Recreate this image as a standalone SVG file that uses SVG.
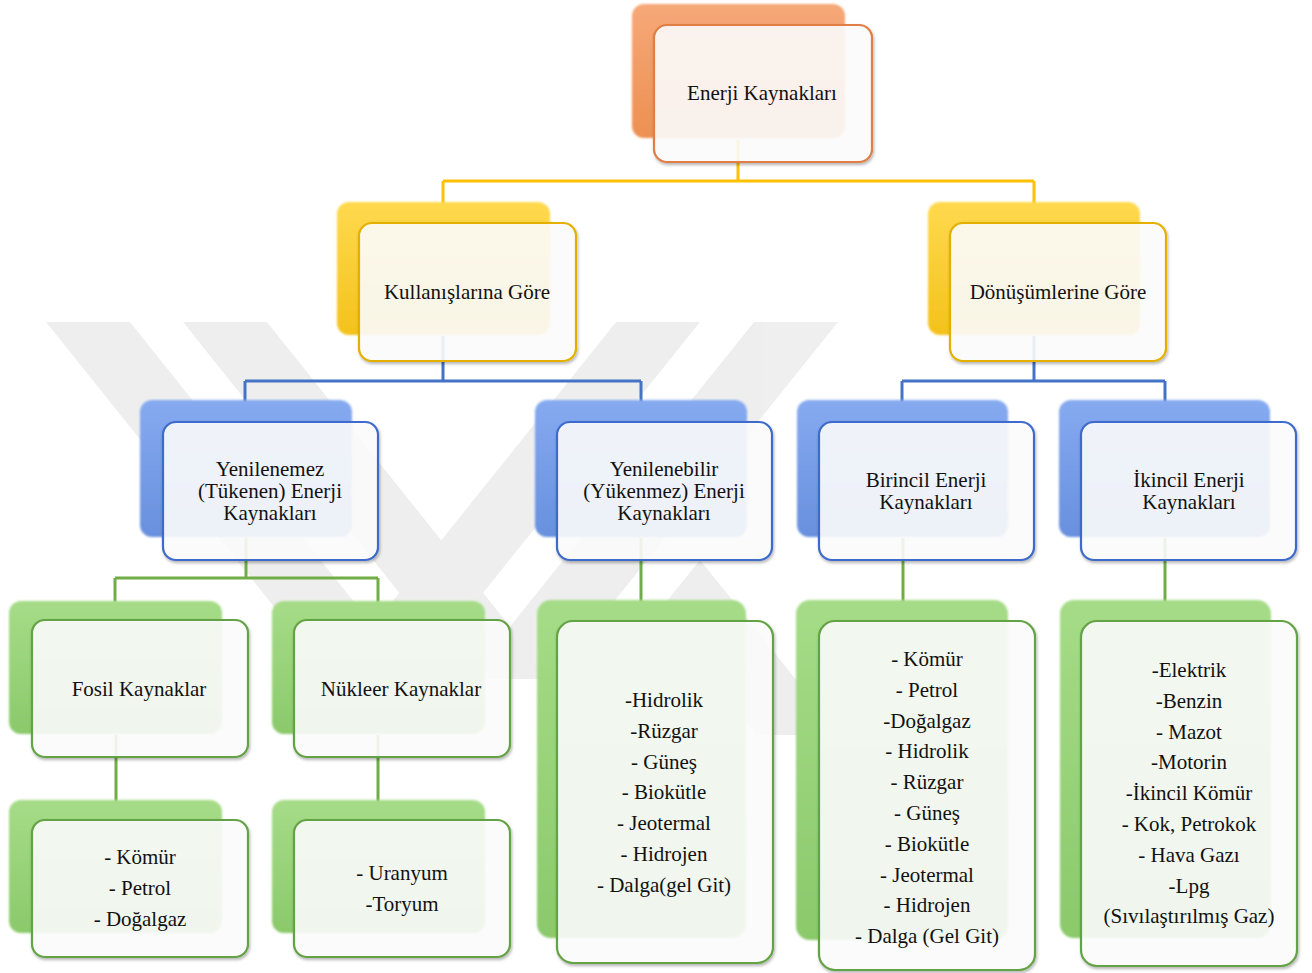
<svg xmlns="http://www.w3.org/2000/svg" width="1312" height="973" viewBox="0 0 1312 973">
<defs>
<linearGradient id="gOrange" x1="0" y1="0" x2="0" y2="1"><stop offset="0" stop-color="#F6A878"/><stop offset="1" stop-color="#EE9052"/></linearGradient>
<linearGradient id="gYellow" x1="0" y1="0" x2="0" y2="1"><stop offset="0" stop-color="#FFD94E"/><stop offset="1" stop-color="#F3C21C"/></linearGradient>
<linearGradient id="gBlue" x1="0" y1="0" x2="0" y2="1"><stop offset="0" stop-color="#86AAF0"/><stop offset="1" stop-color="#6890DE"/></linearGradient>
<linearGradient id="gGreen" x1="0" y1="0" x2="0" y2="1"><stop offset="0" stop-color="#A6DC88"/><stop offset="1" stop-color="#8BC96B"/></linearGradient>
<filter id="sh" x="-10%" y="-10%" width="125%" height="125%"><feDropShadow dx="1" dy="2" stdDeviation="1.5" flood-color="#000" flood-opacity="0.3"/></filter>
<filter id="soft" x="-10%" y="-10%" width="125%" height="125%"><feGaussianBlur stdDeviation="1.2"/></filter>
</defs>
<style>
.back{filter:url(#soft)}
.bo{fill:url(#gOrange)}
.by{fill:url(#gYellow)}
.bb{fill:url(#gBlue)}
.bg{fill:url(#gGreen)}
.front{fill:#ffffff;fill-opacity:0.87;stroke-width:2.2;filter:url(#sh)}
.fo{stroke:#E07E45}
.fy{stroke:#E3B005}
.fb{stroke:#3D6BCB}
.fg{stroke:#63A344}
text{font-family:"Liberation Serif","Times New Roman",serif;font-size:21px;fill:#111;text-anchor:middle}
.conn{fill:none;stroke-width:3}
.cy{stroke:#FFC000}
.cb{stroke:#4472C4}
.cg{stroke:#70AD47}
</style>
<rect width="1312" height="973" fill="#ffffff"/>
<g id="watermark" fill="#d0d0d0" opacity="0.35">
<polygon points="46,322 130,322 415,678 331,678"/>
<polygon points="183,322 267,322 552,679 468,679"/>
<polygon points="616,322 700,322 415,678 331,678"/>
<polygon points="754,322 838,322 552,679 468,679"/>
<polygon points="700,560 742,612 840,735 756,735 700,665 644,735 560,735 658,612"/>
</g>
<g id="connectors">
<path class="conn cy" d="M738,140 V181 M443,181 H1034 M443,181 V204 M1034,181 V204"/>
<path class="conn cb" d="M443,336 V381 M245,381 H641 M245,381 V402 M641,381 V402"/>
<path class="conn cb" d="M1034,336 V381 M902,381 H1165 M902,381 V402 M1165,381 V402"/>
<path class="conn cg" d="M246,538 V578 M115,578 H378 M115,578 V602 M378,578 V602"/>
<path class="conn cg" d="M641,538 V602"/>
<path class="conn cg" d="M903,538 V602"/>
<path class="conn cg" d="M1165,538 V602"/>
<path class="conn cg" d="M116,735 V802"/>
<path class="conn cg" d="M378,735 V802"/>
</g>
<g id="n-enerji">
<rect class="back bo" x="632" y="4" width="213" height="134" rx="12"/>
<rect class="front fo" x="654" y="25" width="218" height="137" rx="13"/>
<text x="762" y="100">Enerji Kaynakları</text>
</g>
<g id="n-kullanis">
<rect class="back by" x="337" y="202" width="213" height="133" rx="12"/>
<rect class="front fy" x="359" y="223" width="217" height="138" rx="13"/>
<text x="467" y="299">Kullanışlarına Göre</text>
</g>
<g id="n-donusum">
<rect class="back by" x="928" y="202" width="212" height="133" rx="12"/>
<rect class="front fy" x="950" y="223" width="216" height="138" rx="13"/>
<text x="1058" y="299">Dönüşümlerine Göre</text>
</g>
<g id="n-yenilenemez">
<rect class="back bb" x="140" y="400" width="212" height="137" rx="12"/>
<rect class="front fb" x="163" y="422" width="215" height="138" rx="13"/>
<text x="270" y="476">Yenilenemez<tspan x="270" dy="22">(Tükenen) Enerji</tspan><tspan x="270" dy="22">Kaynakları</tspan></text>
</g>
<g id="n-yenilenebilir">
<rect class="back bb" x="535" y="400" width="212" height="137" rx="12"/>
<rect class="front fb" x="557" y="422" width="215" height="138" rx="13"/>
<text x="664" y="476">Yenilenebilir<tspan x="664" dy="22">(Yükenmez) Enerji</tspan><tspan x="664" dy="22">Kaynakları</tspan></text>
</g>
<g id="n-birincil">
<rect class="back bb" x="797" y="400" width="211" height="137" rx="12"/>
<rect class="front fb" x="819" y="422" width="215" height="138" rx="13"/>
<text x="926" y="487">Birincil Enerji<tspan x="926" dy="22">Kaynakları</tspan></text>
</g>
<g id="n-ikincil">
<rect class="back bb" x="1059" y="400" width="211" height="137" rx="12"/>
<rect class="front fb" x="1081" y="422" width="215" height="138" rx="13"/>
<text x="1189" y="487">İkincil Enerji<tspan x="1189" dy="22">Kaynakları</tspan></text>
</g>
<g id="n-fosil">
<rect class="back bg" x="9" y="601" width="213" height="133" rx="12"/>
<rect class="front fg" x="32" y="620" width="216" height="137" rx="13"/>
<text x="139" y="696">Fosil Kaynaklar</text>
</g>
<g id="n-nukleer">
<rect class="back bg" x="272" y="601" width="213" height="133" rx="12"/>
<rect class="front fg" x="294" y="620" width="216" height="137" rx="13"/>
<text x="401" y="696">Nükleer Kaynaklar</text>
</g>
<g id="n-fosil-list">
<rect class="back bg" x="9" y="800" width="213" height="133" rx="12"/>
<rect class="front fg" x="32" y="820" width="216" height="137" rx="13"/>
<text x="140" y="864">- Kömür<tspan x="140" dy="31">- Petrol</tspan><tspan x="140" dy="31">- Doğalgaz</tspan></text>
</g>
<g id="n-nukleer-list">
<rect class="back bg" x="272" y="800" width="213" height="133" rx="12"/>
<rect class="front fg" x="294" y="820" width="216" height="137" rx="13"/>
<text x="402" y="880">- Uranyum<tspan x="402" dy="31">-Toryum</tspan></text>
</g>
<g id="n-yenilenebilir-list">
<rect class="back bg" x="537" y="600" width="209" height="338" rx="14"/>
<rect class="front fg" x="557" y="621" width="216" height="342" rx="16"/>
<text x="664" y="707">-Hidrolik<tspan x="664" dy="30.8">-Rüzgar</tspan><tspan x="664" dy="30.8">- Güneş</tspan><tspan x="664" dy="30.8">- Biokütle</tspan><tspan x="664" dy="30.8">- Jeotermal</tspan><tspan x="664" dy="30.8">- Hidrojen</tspan><tspan x="664" dy="30.8">- Dalga(gel Git)</tspan></text>
</g>
<g id="n-birincil-list">
<rect class="back bg" x="796" y="600" width="212" height="340" rx="14"/>
<rect class="front fg" x="819" y="621" width="216" height="349" rx="16"/>
<text x="927" y="666">- Kömür<tspan x="927" dy="30.8">- Petrol</tspan><tspan x="927" dy="30.8">-Doğalgaz</tspan><tspan x="927" dy="30.8">- Hidrolik</tspan><tspan x="927" dy="30.8">- Rüzgar</tspan><tspan x="927" dy="30.8">- Güneş</tspan><tspan x="927" dy="30.8">- Biokütle</tspan><tspan x="927" dy="30.8">- Jeotermal</tspan><tspan x="927" dy="30.8">- Hidrojen</tspan><tspan x="927" dy="30.8">- Dalga (Gel Git)</tspan></text>
</g>
<g id="n-ikincil-list">
<rect class="back bg" x="1060" y="600" width="211" height="338" rx="14"/>
<rect class="front fg" x="1081" y="621" width="216" height="345" rx="16"/>
<text x="1189" y="677">-Elektrik<tspan x="1189" dy="30.8">-Benzin</tspan><tspan x="1189" dy="30.8">- Mazot</tspan><tspan x="1189" dy="30.8">-Motorin</tspan><tspan x="1189" dy="30.8">-İkincil Kömür</tspan><tspan x="1189" dy="30.8">- Kok, Petrokok</tspan><tspan x="1189" dy="30.8">- Hava Gazı</tspan><tspan x="1189" dy="30.8">-Lpg</tspan><tspan x="1189" dy="30.8">(Sıvılaştırılmış Gaz)</tspan></text>
</g>
</svg>
